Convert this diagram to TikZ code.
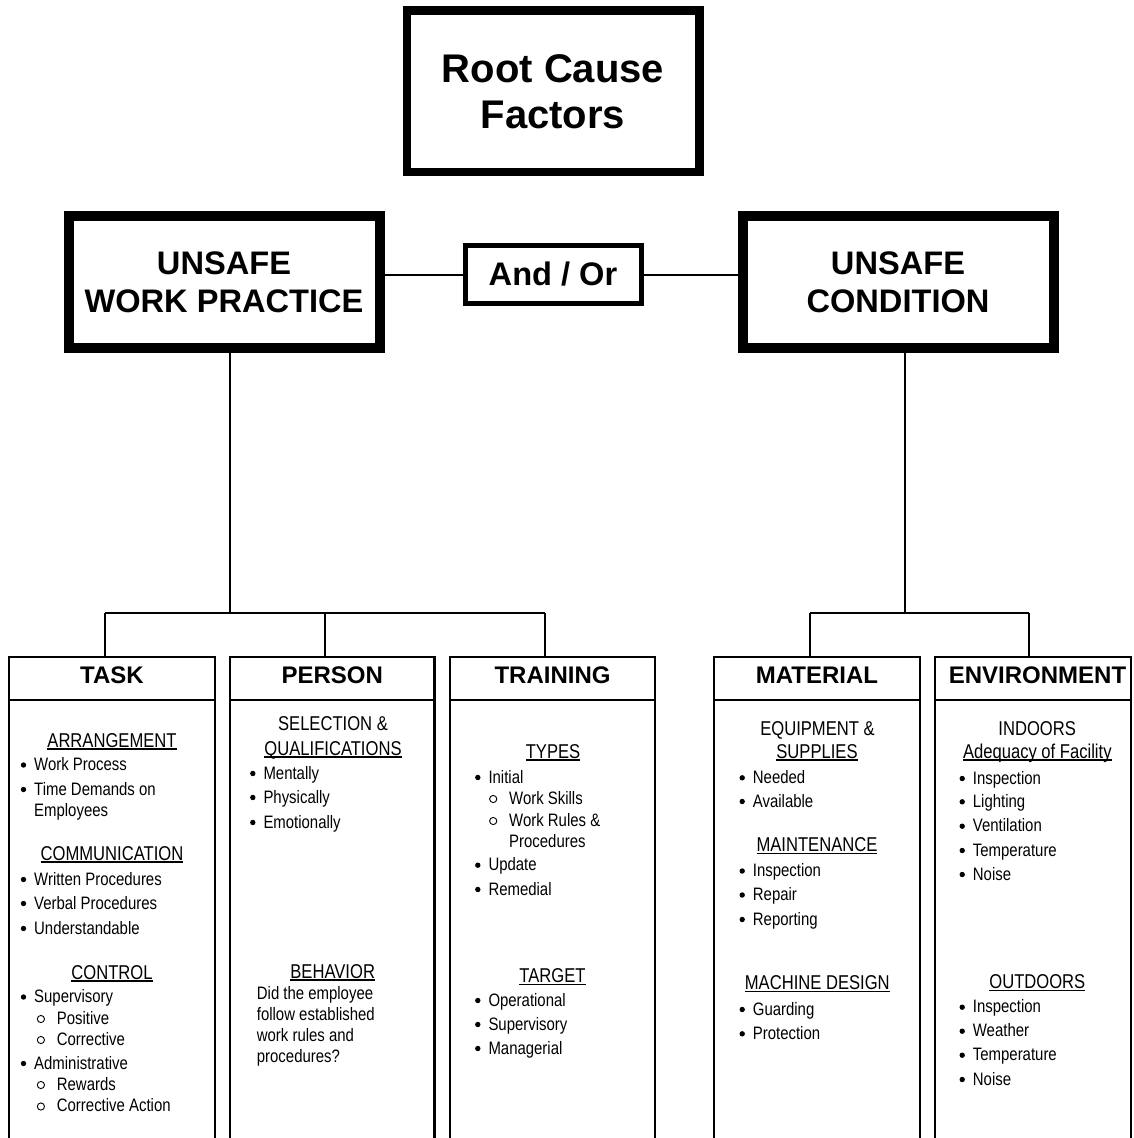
\documentclass[tikz,border=0pt]{standalone}
\usepackage{fontspec}
\setmainfont{Liberation Sans}
\newfontfamily\nar{Liberation Sans}[FakeStretch=0.83]
\newcommand\myul[1]{\setbox0=\hbox{#1}\rlap{\rule[-2.6pt]{\wd0}{1.4pt}}\box0}
\tikzset{
  bigbox/.style={draw, line width=10pt, inner sep=0pt, align=center,
    font=\bfseries\fontsize{32.6}{38.3}\selectfont, minimum width=311pt, minimum height=132pt},
  rootbox/.style={draw, line width=8.5pt, inner sep=0pt, align=center,
    font=\bfseries\fontsize{40}{46}\selectfont, minimum width=292.5pt, minimum height=161.5pt},
  andbox/.style={draw, line width=5pt, inner sep=0pt,
    font=\bfseries\fontsize{32.6}{38}\selectfont, minimum width=176pt, minimum height=58pt},
  colhd/.style={draw, line width=2.6pt, inner sep=0pt, outer sep=0pt, minimum height=43pt,
    font=\bfseries\fontsize{24}{28}\selectfont, text height=17pt, text depth=7pt},
  colline/.style={line width=2.6pt},
  conn/.style={line width=2pt},
  bt/.style={anchor=base west, inner sep=0pt, font=\nar\fontsize{18}{21}\selectfont},
  sh/.style={anchor=base, inner sep=0pt, font=\nar\fontsize{20}{24}\selectfont},
}
% name, x, baseline y, text
\newcommand\Bul[4]{\node[bt] (#1) at (#2,#3) {#4};
  \fill (#1.base west) ++(-10.5,-5.5) circle (2.7pt);}
\newcommand\Cir[4]{\node[bt] (#1) at (#2,#3) {#4};
  \draw[line width=0.9pt] (#1.base west) ++(-15.8,-5) circle (3.6pt);}
\newcommand\Txt[4]{\node[bt] (#1) at (#2,#3) {#4};}
\newcommand\Shd[4]{\node[sh] (#1) at (#2,#3) {\myul{#4}};}
\newcommand\Phd[4]{\node[sh] (#1) at (#2,#3) {#4};}
\begin{document}
\begin{tikzpicture}[x=1pt,y=-1pt]
\fill[white] (0,0) rectangle (1133,1138);
\useasboundingbox (0,0) rectangle (1133,1138);
\coordinate (bot) at (0,1142);

% top boxes
\node[rootbox] (root) at (553,91.25) {Root Cause\\Factors};
\node[bigbox] (uwp) at (224,282) {UNSAFE\\WORK PRACTICE};
\node[bigbox] (uc) at (898,282) {UNSAFE\\CONDITION};
\node[andbox] (andor) at (553,274.5) {And / Or};
\draw[conn] (uwp.east |- andor.west) -- (andor.west);
\draw[conn] (andor.east) -- (andor.east -| uc.west);

% column headers
\node[colhd, minimum width=206pt] (task) at (112,678.5) {TASK};
\node[colhd, minimum width=204.5pt] (person) at (332.25,678.5) {PERSON};
\node[colhd, minimum width=205pt] (training) at (552.5,678.5) {TRAINING};
\node[colhd, minimum width=206pt] (material) at (817,678.5) {MATERIAL};
\node[colhd, minimum width=196pt] (env) at (1033,678.5) {\hspace*{9pt}ENVIRONMENT};
\foreach \c in {task,person,training,material,env}{
  \draw[colline] (\c.north west) -- (\c.north west |- bot);
  \draw[colline] (\c.north east) -- (\c.north east |- bot);
}

% tree connectors
\coordinate (jl) at (230,613);
\coordinate (jt) at (105,613);
\coordinate (jp) at (325,613);
\coordinate (jr) at (544.5,613);
\draw[conn] (uwp.south -| jl) -- (jl);
\draw[conn] (jt) -- (jr);
\draw[conn] (jt) -- (jt |- task.north);
\draw[conn] (jp) -- (jp |- person.north);
\draw[conn] (jr) -- (jr |- training.north);
\coordinate (jc) at (905,613);
\coordinate (jm) at (810,613);
\coordinate (je) at (1029,613);
\draw[conn] (uc.south -| jc) -- (jc);
\draw[conn] (jm) -- (je);
\draw[conn] (jm) -- (jm |- material.north);
\draw[conn] (je) -- (je |- env.north);

% TASK
\Shd{a0}{112}{747}{ARRANGEMENT}
\Bul{a1}{34}{770.5}{Work Process}
\Bul{a2}{34}{795}{Time Demands on}
\Txt{a3}{34}{816}{Employees}
\Shd{a4}{112}{860}{COMMUNICATION}
\Bul{a5}{34}{885}{Written Procedures}
\Bul{a6}{34}{909}{Verbal Procedures}
\Bul{a7}{34}{934}{Understandable}
\Shd{a8}{112}{979}{CONTROL}
\Bul{a9}{34}{1002.5}{Supervisory}
\Cir{a10}{56.7}{1024}{Positive}
\Cir{a11}{56.7}{1045}{Corrective}
\Bul{a12}{34}{1069}{Administrative}
\Cir{a13}{56.7}{1090}{Rewards}
\Cir{a14}{56.7}{1111.5}{Corrective Action}

% PERSON
\Phd{b0}{333}{730.5}{SELECTION \&}
\Shd{b1}{333}{755}{QUALIFICATIONS}
\Bul{b2}{263.3}{779}{Mentally}
\Bul{b3}{263.3}{803}{Physically}
\Bul{b4}{263.3}{828}{Emotionally}
\Shd{b5}{332.7}{978}{BEHAVIOR}
\Txt{b6}{256.7}{999}{Did the employee}
\Txt{b7}{256.7}{1020}{follow established}
\Txt{b8}{256.7}{1041.5}{work rules and}
\Txt{b9}{256.7}{1062.5}{procedures?}

% TRAINING
\Shd{c0}{553}{758}{TYPES}
\Bul{c1}{488.3}{783}{Initial}
\Cir{c2}{509}{804}{Work Skills}
\Cir{c3}{509}{826}{Work Rules \&}
\Txt{c4}{509}{847}{Procedures}
\Bul{c5}{488.3}{870.7}{Update}
\Bul{c6}{488.3}{895}{Remedial}
\Shd{c7}{552.5}{982.5}{TARGET}
\Bul{c8}{488.3}{1006}{Operational}
\Bul{c9}{488.3}{1030}{Supervisory}
\Bul{c10}{488.3}{1054}{Managerial}

% MATERIAL
\Phd{d0}{817.5}{735}{EQUIPMENT \&}
\Shd{d1}{817}{758}{SUPPLIES}
\Bul{d2}{752.7}{783.3}{Needed}
\Bul{d3}{752.7}{807}{Available}
\Shd{d4}{817}{851.5}{MAINTENANCE}
\Bul{d5}{752.7}{876.5}{Inspection}
\Bul{d6}{752.7}{900.5}{Repair}
\Bul{d7}{752.7}{925}{Reporting}
\Shd{d8}{817.3}{989.3}{MACHINE DESIGN}
\Bul{d9}{752.7}{1015}{Guarding}
\Bul{d10}{752.7}{1039.3}{Protection}

% ENVIRONMENT
\Phd{e0}{1037.2}{735}{INDOORS}
\Shd{e1}{1037.3}{758}{Adequacy of Facility}
\Bul{e2}{972.7}{784}{Inspection}
\Bul{e3}{972.7}{807.3}{Lighting}
\Bul{e4}{972.7}{831.7}{Ventilation}
\Bul{e5}{972.7}{856}{Temperature}
\Bul{e6}{972.7}{880}{Noise}
\Shd{e7}{1037.3}{988.3}{OUTDOORS}
\Bul{e8}{972.7}{1012.7}{Inspection}
\Bul{e9}{972.7}{1036.7}{Weather}
\Bul{e10}{972.7}{1060.7}{Temperature}
\Bul{e11}{972.7}{1085}{Noise}
\end{tikzpicture}
\end{document}
